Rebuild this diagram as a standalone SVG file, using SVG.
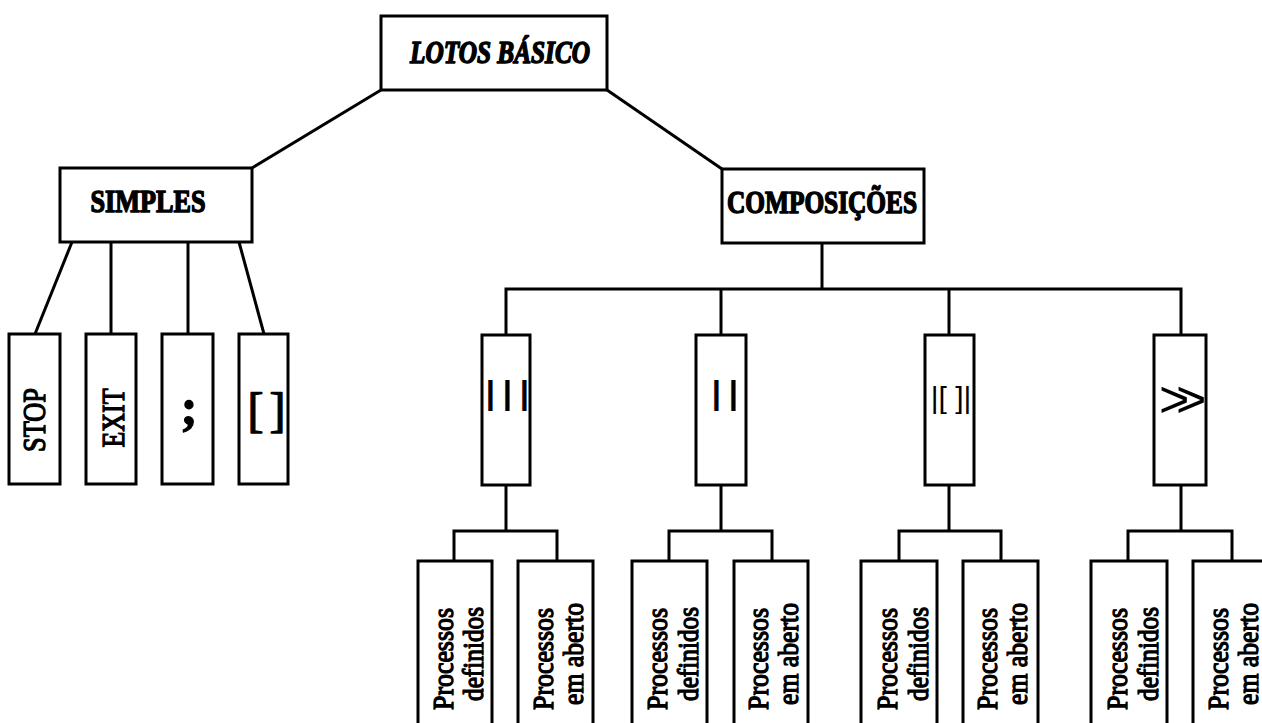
<svg xmlns="http://www.w3.org/2000/svg" width="1262" height="723" viewBox="0 0 1262 723">
  <style>
    .box { fill: #fff; stroke: #000; stroke-width: 3; }
    .link { fill: none; stroke: #000; stroke-width: 3; stroke-linejoin: miter; }
    .serif { font-family: "Liberation Serif", "Times New Roman", serif; fill: #000; stroke: #000; stroke-width: 1.3; stroke-linejoin: round; }
    .head { font-size: 31px; font-weight: bold; stroke-width: 1.5; }
    .vert { font-size: 31px; text-anchor: middle; }
    .proc { font-size: 30px; text-anchor: middle; }
    .sym { font-family: "Liberation Sans", Arial, sans-serif; fill: #000; }
  </style>
  <rect width="1262" height="723" fill="#fff"/>

  <!-- connectors -->
  <g id="connectors" class="link">
    <!-- root to the two branches -->
    <path d="M381 90 L252 168"/>
    <path d="M607 90 L722 169"/>
    <!-- SIMPLES to its four leaves -->
    <path d="M72 242 L35 334"/>
    <path d="M111 242 L111 334"/>
    <path d="M188 242 L188 334"/>
    <path d="M239 242 L264 334"/>
    <!-- COMPOSIÇÕES bus -->
    <path d="M822 243 L822 289"/>
    <path d="M506 335 L506 289 L1181 289 L1181 335"/>
    <path d="M721 289 L721 335"/>
    <path d="M949 289 L949 335"/>
    <!-- operator boxes to process boxes -->
    <path d="M506 485 L506 531"/>
    <path d="M454 561 L454 531 L557 531 L557 561"/>
    <path d="M721 485 L721 531"/>
    <path d="M669 561 L669 531 L772 531 L772 561"/>
    <path d="M949 485 L949 531"/>
    <path d="M899 561 L899 531 L1001 531 L1001 561"/>
    <path d="M1181 485 L1181 531"/>
    <path d="M1128 561 L1128 531 L1232 531 L1232 561"/>
  </g>

  <!-- root -->
  <g id="lotos-basico">
    <rect class="box" x="381" y="16" width="226" height="74"/>
    <text class="serif head" x="500" y="63" text-anchor="middle" font-style="italic" textLength="180" lengthAdjust="spacingAndGlyphs">LOTOS BÁSICO</text>
  </g>

  <!-- branches -->
  <g id="simples">
    <rect class="box" x="60" y="168" width="192" height="74"/>
    <text class="serif head" x="148" y="212" text-anchor="middle" textLength="115" lengthAdjust="spacingAndGlyphs">SIMPLES</text>
  </g>
  <g id="composicoes">
    <rect class="box" x="722" y="169" width="202" height="74"/>
    <text class="serif head" x="822" y="213" text-anchor="middle" textLength="190" lengthAdjust="spacingAndGlyphs">COMPOSIÇÕES</text>
  </g>

  <!-- simple leaves -->
  <g id="stop">
    <rect class="box" x="9" y="334" width="51" height="150"/>
    <text class="serif vert" transform="translate(45,420) rotate(-90)" textLength="64" lengthAdjust="spacingAndGlyphs">STOP</text>
  </g>
  <g id="exit">
    <rect class="box" x="86" y="334" width="50" height="150"/>
    <text class="serif vert" transform="translate(124,418) rotate(-90)" textLength="59" lengthAdjust="spacingAndGlyphs">EXIT</text>
  </g>
  <g id="seq">
    <rect class="box" x="162" y="334" width="51" height="150"/>
    <text class="serif" x="189" y="424" font-size="50" font-weight="bold" text-anchor="middle" stroke-width="0.8">;</text>
  </g>
  <g id="choice">
    <rect class="box" x="239" y="334" width="49" height="150"/>
    <text class="serif" x="265" y="426" font-size="48" text-anchor="middle" letter-spacing="-3" stroke-width="0.8">[ ]</text>
  </g>

  <!-- composition operators -->
  <g id="interleave">
    <rect class="box" x="482" y="335" width="48" height="150"/>
    <text class="sym" x="485.7 502.7 519.7" y="404" font-size="33" font-weight="bold">|||</text>
  </g>
  <g id="sync">
    <rect class="box" x="696" y="335" width="50" height="150"/>
    <text class="sym" x="711.7 728.7" y="404" font-size="33" font-weight="bold">||</text>
  </g>
  <g id="gate-sync">
    <rect class="box" x="925" y="335" width="49" height="150"/>
    <text class="sym" x="951" y="408" font-size="30" text-anchor="middle">|[ ]|</text>
  </g>
  <g id="enable">
    <rect class="box" x="1154" y="335" width="52" height="150"/>
    <text class="sym" x="1159 1176" y="417" font-size="52">&gt;&gt;</text>
  </g>

  <!-- process leaves -->
  <g id="interleave-definidos">
    <rect class="box" x="418" y="561" width="74" height="175"/>
    <text class="serif proc" transform="translate(453,659) rotate(-90)" textLength="102" lengthAdjust="spacingAndGlyphs">Processos</text>
    <text class="serif proc" transform="translate(483,654) rotate(-90)" textLength="94" lengthAdjust="spacingAndGlyphs">definidos</text>
  </g>
  <g id="interleave-aberto">
    <rect class="box" x="518" y="561" width="75" height="175"/>
    <text class="serif proc" transform="translate(553,659) rotate(-90)" textLength="102" lengthAdjust="spacingAndGlyphs">Processos</text>
    <text class="serif proc" transform="translate(583,654) rotate(-90)" textLength="102" lengthAdjust="spacingAndGlyphs">em aberto</text>
  </g>
  <g id="sync-definidos">
    <rect class="box" x="632" y="561" width="75" height="175"/>
    <text class="serif proc" transform="translate(667,659) rotate(-90)" textLength="102" lengthAdjust="spacingAndGlyphs">Processos</text>
    <text class="serif proc" transform="translate(698,654) rotate(-90)" textLength="94" lengthAdjust="spacingAndGlyphs">definidos</text>
  </g>
  <g id="sync-aberto">
    <rect class="box" x="734" y="561" width="74" height="175"/>
    <text class="serif proc" transform="translate(768,659) rotate(-90)" textLength="102" lengthAdjust="spacingAndGlyphs">Processos</text>
    <text class="serif proc" transform="translate(798,654) rotate(-90)" textLength="102" lengthAdjust="spacingAndGlyphs">em aberto</text>
  </g>
  <g id="gate-sync-definidos">
    <rect class="box" x="861" y="561" width="76" height="175"/>
    <text class="serif proc" transform="translate(897,659) rotate(-90)" textLength="102" lengthAdjust="spacingAndGlyphs">Processos</text>
    <text class="serif proc" transform="translate(928,654) rotate(-90)" textLength="94" lengthAdjust="spacingAndGlyphs">definidos</text>
  </g>
  <g id="gate-sync-aberto">
    <rect class="box" x="963" y="561" width="75" height="175"/>
    <text class="serif proc" transform="translate(997,659) rotate(-90)" textLength="102" lengthAdjust="spacingAndGlyphs">Processos</text>
    <text class="serif proc" transform="translate(1027,654) rotate(-90)" textLength="102" lengthAdjust="spacingAndGlyphs">em aberto</text>
  </g>
  <g id="enable-definidos">
    <rect class="box" x="1091" y="561" width="76" height="175"/>
    <text class="serif proc" transform="translate(1127,659) rotate(-90)" textLength="102" lengthAdjust="spacingAndGlyphs">Processos</text>
    <text class="serif proc" transform="translate(1158,654) rotate(-90)" textLength="94" lengthAdjust="spacingAndGlyphs">definidos</text>
  </g>
  <g id="enable-aberto">
    <rect class="box" x="1193" y="561" width="76" height="175"/>
    <text class="serif proc" transform="translate(1228,659) rotate(-90)" textLength="102" lengthAdjust="spacingAndGlyphs">Processos</text>
    <text class="serif proc" transform="translate(1258,654) rotate(-90)" textLength="102" lengthAdjust="spacingAndGlyphs">em aberto</text>
  </g>
</svg>
